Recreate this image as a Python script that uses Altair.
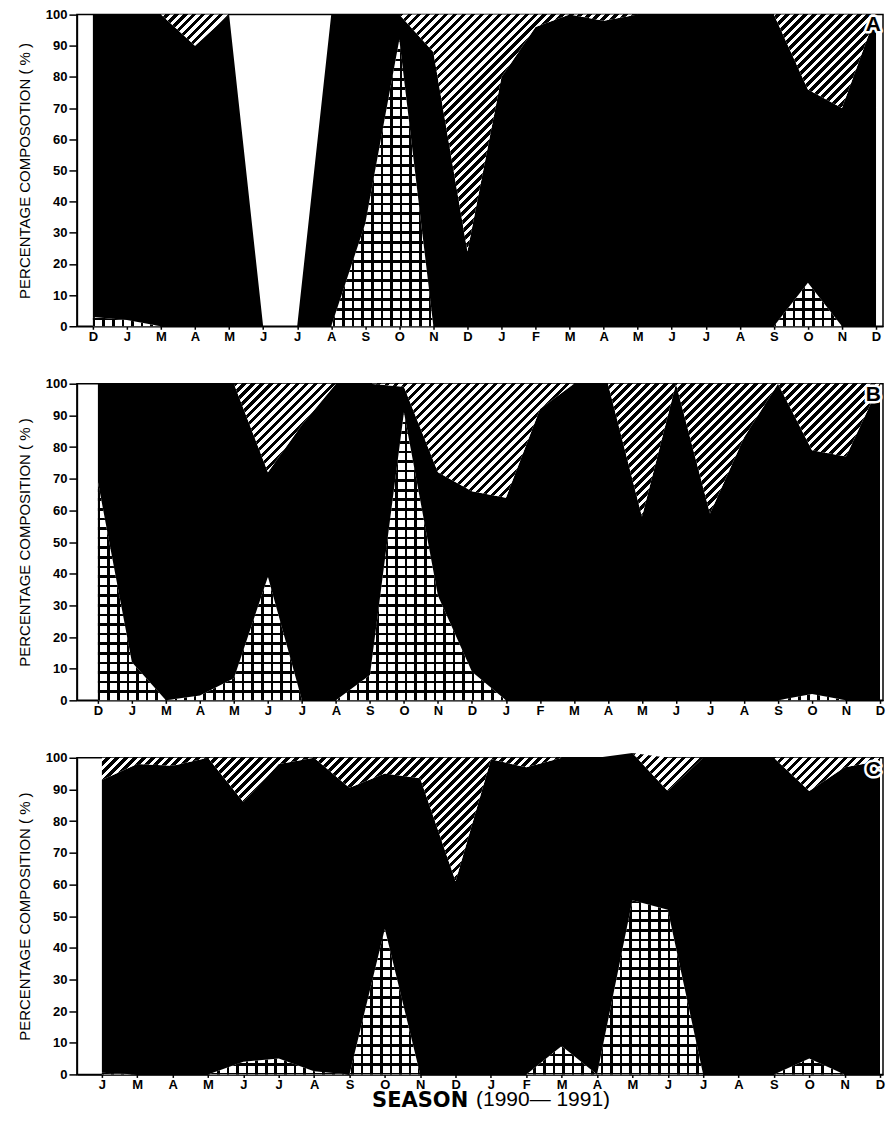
import altair as alt
import pandas as pd

# ---------------- data (percent composition) ----------------
months_ab = ["D", "J", "M", "A", "M", "J", "J", "A", "S", "O", "N", "D",
             "J", "F", "M", "A", "M", "J", "J", "A", "S", "O", "N", "D"]
months_c = ["J", "M", "A", "M", "J", "J", "A", "S", "O", "N", "D",
            "J", "F", "M", "A", "M", "J", "J", "A", "S", "O", "N", "D"]
panel_letters = ["A", "B", "C"]

# bottom (cross-hatched) component
a_cross = [3, 2, 0, 0, 0, 0, 0, 0, 33, 92, 0, 0, 0, 0, 0, 0, 0, 0, 0, 0, 0, 14, 0, 0]
# top (diagonal hatched) component
a_hatch = [0, 0, 0, 10, 0, 0, 0, 0, 0, 0, 12, 76, 20, 4, 0, 2, 0, 0, 0, 0, 0, 24, 30, 0]
# total of the column (0 = no sample)
a_total = [100, 100, 100, 100, 100, 0, 0, 100, 100, 100, 100, 100,
           100, 100, 100, 100, 100, 100, 100, 100, 100, 100, 100, 100]

b_cross = [69, 12, 0, 1.5, 7, 39, 0, 0, 8, 91, 33, 9, 0, 0, 0, 0, 0, 0, 0, 0, 0, 2, 0, 0]
b_hatch = [0, 0, 0, 0, 0, 28, 13, 0, 0, 1, 28, 34, 36, 8, 0, 0, 42, 0, 41, 17, 0, 21, 23, 0]
b_total = [100] * 24

c_cross = [0.5, 0, 0, 0, 4, 5, 1, 0, 46, 0, 0, 0, 0, 9, 0, 55, 52, 0, 0, 0, 5, 0, 0]
c_hatch = [7, 2, 2.5, 0, 14, 2, 0, 9.5, 5, 6.5, 39, 0.5, 3, 0, 0, 0, 10.5, 0, 0, 0, 10.5, 3, 1]
c_total = [100, 100, 100, 100, 100, 100, 100, 100, 100, 100, 100, 100,
           100, 100, 100, 101.5, 100, 100, 100, 100, 100, 100, 100]

y_ticks = list(range(0, 101, 10))

# ---------------- style ----------------
PLOT_W = 807
HATCH_PERIOD = 9.0      # horizontal distance between diagonal lines, px
HATCH_INK = 4.6         # ink width along that distance, px
GRID_PERIOD = 9.6
GRID_INK = 2.6
FONT = "Liberation Sans"


def stripe_stops(length, period, ink, ink_color, paper_color):
    stops = []
    pos = 0.0
    while pos < length:
        a = pos / length
        b = min(pos + ink, length) / length
        c = min(pos + period, length) / length
        stops += [
            {"offset": round(a, 6), "color": ink_color},
            {"offset": round(b, 6), "color": ink_color},
            {"offset": round(b, 6), "color": paper_color},
            {"offset": round(c, 6), "color": paper_color},
        ]
        pos += period
    return stops


def diag_fill(wb, hb):
    length = wb + hb
    s = (wb * wb + hb * hb) / length
    return {"gradient": "linear", "x1": 0, "y1": 0,
            "x2": round(wb / s, 6), "y2": round(hb / s, 6),
            "stops": stripe_stops(length, HATCH_PERIOD, HATCH_INK, "black", "white")}


def hlines_fill(hb):
    return {"gradient": "linear", "x1": 0, "y1": 0, "x2": 0, "y2": 1,
            "stops": stripe_stops(hb, GRID_PERIOD, GRID_INK, "black", "white")}


def vlines_fill(wb):
    return {"gradient": "linear", "x1": 0, "y1": 0, "x2": 1, "y2": 0,
            "stops": stripe_stops(wb, GRID_PERIOD, GRID_INK, "black", "rgba(0,0,0,0)")}


def panel(letter, labels, cross, hatch, total, dom, height, ytitle, xtitle, letter_dy):
    n = len(labels)
    idx = list(range(n))
    black_top = [t - h for t, h in zip(total, hatch)]

    span = dom[1] - dom[0]
    wb = (n - 1) * PLOT_W / span
    hb_cross = max(cross) * height / 100.0
    hb_hatch = (max(total) - min(black_top)) * height / 100.0

    label_expr = "[" + ",".join("'%s'" % m for m in labels) + "][datum.value]"
    x_axis = dict(values=idx, labelExpr=label_expr, tickSize=3, labelPadding=1,
                  labelFontSize=13, labelFontWeight="bold", labelFont=FONT,
                  labelFlush=False)
    if xtitle:
        x_axis.update(title=xtitle, titleFont="DejaVu Sans", titleFontSize=21,
                      titleFontWeight="bold", titleAlign="left", titleAnchor="start",
                      titleX=295, titleY=32, titleBaseline="alphabetic")
    else:
        x_axis.update(title=None)
    x = alt.X("i:Q", scale=alt.Scale(domain=list(dom), nice=False, zero=False),
              axis=alt.Axis(**x_axis))
    y = alt.Y("lo:Q", scale=alt.Scale(domain=[0, 100], nice=False, zero=True),
              axis=alt.Axis(values=y_ticks, title=ytitle, tickSize=8, labelPadding=2,
                            labelFontSize=13, labelFontWeight="bold", labelFont=FONT,
                            titleFont=FONT, titleFontSize=15, titleFontWeight="normal",
                            titlePadding=13))
    y2 = alt.Y2("hi:Q")

    def layer(lo, hi, fill):
        df = pd.DataFrame({"i": idx, "lo": lo, "hi": hi})
        return alt.Chart(df).mark_area(fill=fill, opacity=1, interpolate="linear").encode(
            x=x, y=y, y2=y2)

    zeros = [0] * n
    tag_df = pd.DataFrame({"t": [letter]})
    tag_style = dict(align="right", baseline="top", font=FONT, fontSize=21,
                     fontWeight="bold", dx=-2, dy=letter_dy)
    halo = alt.Chart(tag_df).mark_text(
        color="white", stroke="white", strokeWidth=5, strokeJoin="round", **tag_style
    ).encode(x=alt.value(PLOT_W), y=alt.value(0), text="t:N")
    tag = alt.Chart(tag_df).mark_text(color="black", **tag_style).encode(
        x=alt.value(PLOT_W), y=alt.value(0), text="t:N")

    layers = [
        layer(zeros, cross, hlines_fill(hb_cross)),
        layer(zeros, cross, vlines_fill(wb)),
        layer(cross, black_top, "black"),
        layer(black_top, total, diag_fill(wb, hb_hatch)),
        halo,
        tag,
    ]
    return alt.layer(*layers).properties(width=PLOT_W, height=height)


pa = panel(panel_letters[0], months_ab, a_cross, a_hatch, a_total, (-0.469, 23.205), 312,
           "PERCENTAGE COMPOSOTION ( % )", None, -1)
pb = panel(panel_letters[1], months_ab, b_cross, b_hatch, b_total, (-0.617, 23.088), 317,
           "PERCENTAGE COMPOSITION ( % )", None, 0)
pc = panel(panel_letters[2], months_c, c_cross, c_hatch, c_total, (-0.706, 22.085), 317,
           "PERCENTAGE COMPOSITION ( % )", "SEASON", 1)

chart = alt.vconcat(pa, pb, pc, spacing=57.5, bounds="flush").properties(
    padding={"left": 8, "top": -1, "right": 0, "bottom": -3},
    title=alt.TitleParams("(1990\u2014 1991)", orient="bottom", anchor="start",
                          frame="bounds", baseline="alphabetic", offset=-5, dx=460,
                          font=FONT, fontSize=21, fontWeight="normal", color="black"),
).configure_view(stroke="black", strokeWidth=1.5).configure_axis(
    grid=False, domainColor="black", domainWidth=1.5, tickColor="black",
    tickWidth=1.5, labelColor="black", titleColor="black")

chart.save("out.html", embed_options={"renderer": "svg", "actions": False})
